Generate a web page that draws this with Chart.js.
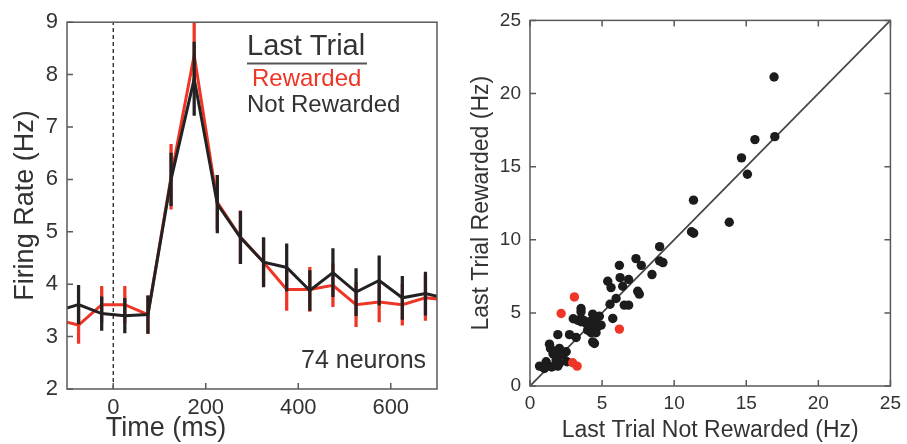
<!DOCTYPE html>
<html>
<head>
<meta charset="utf-8">
<script src="https://cdn.jsdelivr.net/npm/chart.js@4/dist/chart.umd.min.js"></script>
<style>
  body { margin: 0; background: #fff; }
  #wrap { position: relative; width: 907px; height: 444px; }
  canvas { position: absolute; top: 0; }
  #left-chart { left: 0; }
  #right-chart { left: 460px; }
</style>
</head>
<body>
<div id="wrap">
  <canvas id="left-chart" width="460" height="444"></canvas>
  <canvas id="right-chart" width="447" height="444"></canvas>
</div>
<script>
// Left panel: PSTH around reward, 50 ms bins
const times = [-125, -75, -25, 25, 75, 125, 175, 225, 275, 325, 375, 425, 475, 525, 575, 625, 675, 725];
const rewardedMean = [3.33, 3.22, 3.61, 3.61, 3.42, 6.05, 8.37, 5.56, 4.90, 4.42, 3.90, 3.90, 3.98, 3.61, 3.66, 3.61, 3.74, 3.70];
const rewardedErr = [null, 0.35, 0.35, 0.35, 0.36, 0.62, 0.65, 0.52, 0.50, 0.45, 0.40, 0.42, 0.41, 0.42, 0.38, 0.39, 0.43, null];
const notRewardedMean = [3.48, 3.61, 3.44, 3.40, 3.42, 6.00, 7.92, 5.53, 4.89, 4.42, 4.32, 3.88, 4.22, 3.85, 4.07, 3.74, 3.82, 3.72];
const notRewardedErr = [null, 0.37, 0.32, 0.33, 0.36, 0.50, 0.70, 0.55, 0.50, 0.47, 0.45, 0.38, 0.46, 0.45, 0.47, 0.41, 0.41, null];
const leftYTicks = [2, 3, 4, 5, 6, 7, 8, 9];
const leftXTicks = [0, 200, 400, 600];

// Right panel: per-neuron rates (x = not rewarded, y = rewarded)
const neuronsBlack = [
  [16.93, 21.13], [16.98, 17.05], [15.6, 16.85], [14.67, 15.6], [15.08, 14.48],
  [13.82, 11.2], [11.34, 12.71], [11.2, 10.55], [11.35, 10.45], [8.99, 9.53],
  [7.35, 8.71], [7.72, 8.25], [8.99, 8.55], [9.22, 8.44], [6.2, 8.25],
  [8.46, 7.62], [5.39, 7.16], [6.25, 7.41], [6.84, 7.28], [5.62, 6.73],
  [6.43, 6.82], [7.47, 6.48], [7.58, 6.28], [5.97, 5.98], [5.55, 5.59],
  [6.54, 5.53], [6.84, 5.53], [3.54, 5.3], [3.54, 5.07], [4.35, 4.91],
  [4.81, 4.77], [5.74, 4.62], [3.31, 4.5], [3.54, 4.39], [3.89, 4.28],
  [4.12, 4.39], [4.35, 4.16], [4.58, 4.39], [4.7, 4.05], [4.93, 4.16],
  [4.0, 3.82], [4.24, 3.64], [4.58, 3.64], [4.35, 3.02], [4.47, 2.91],
  [1.93, 3.51], [2.74, 3.51], [3.2, 3.32], [1.35, 2.86], [1.42, 2.57],
  [2.04, 2.57], [2.16, 2.34], [2.51, 2.34], [1.93, 2.0], [1.81, 1.77],
  [2.04, 1.55], [1.12, 1.66], [1.23, 1.43], [0.66, 1.36], [0.89, 1.28],
  [2.57, 1.66], [1.93, 1.36], [3.0, 4.6], [4.47, 3.87], [3.7, 4.5],
  [2.3, 2.1], [1.6, 2.2], [1.0, 1.2], [1.5, 1.3]
];
const neuronsRed = [[3.08, 6.09], [2.16, 4.96], [6.2, 3.89], [2.96, 1.59], [3.27, 1.36]];
const identityLine = [0, 25];
const rightTicks = [0, 5, 10, 15, 20, 25];

const RED = '#ee3526';
const BLACK = '#222222';
const AXIS = '#5a5a5a';
const FONT = "'Liberation Sans', Arial, sans-serif";

// MATLAB style box with inward ticks
function boxPlugin(mirror) {
  return {
    id: 'box',
    afterDraw(chart) {
      const { ctx, chartArea: a } = chart;
      const xs = chart.scales.x, ys = chart.scales.y;
      const len = 6;
      ctx.save();
      ctx.strokeStyle = AXIS;
      ctx.lineWidth = 1.5;
      ctx.strokeRect(a.left, a.top, a.right - a.left, a.bottom - a.top);
      ctx.beginPath();
      xs.ticks.forEach(t => {
        const px = xs.getPixelForValue(t.value);
        ctx.moveTo(px, a.bottom); ctx.lineTo(px, a.bottom - len);
        if (mirror) { ctx.moveTo(px, a.top); ctx.lineTo(px, a.top + len); }
      });
      ys.ticks.forEach(t => {
        const py = ys.getPixelForValue(t.value);
        ctx.moveTo(a.left, py); ctx.lineTo(a.left + len, py);
        if (mirror) { ctx.moveTo(a.right, py); ctx.lineTo(a.right - len, py); }
      });
      ctx.stroke();
      ctx.restore();
    }
  };
}

// Legend and notes on the left panel
const leftTextPlugin = {
  id: 'leftText',
  afterDraw(chart) {
    const ctx = chart.ctx;
    ctx.save();
    ctx.textBaseline = 'alphabetic';
    ctx.textAlign = 'left';
    ctx.fillStyle = '#333';
    ctx.font = '29px ' + FONT;
    ctx.fillText('Last Trial', 247, 55);
    ctx.strokeStyle = '#555';
    ctx.lineWidth = 2;
    ctx.beginPath();
    ctx.moveTo(247, 63.5); ctx.lineTo(367, 63.5);
    ctx.stroke();
    ctx.font = '24px ' + FONT;
    ctx.fillStyle = RED;
    ctx.fillText('Rewarded', 252, 86);
    ctx.fillStyle = '#333';
    ctx.fillText('Not Rewarded', 247, 112);
    ctx.font = '25px ' + FONT;
    ctx.fillText('74 neurons', 301, 368);
    ctx.font = '27px ' + FONT;
    ctx.textAlign = 'center';
    ctx.fillText('Time (ms)', 166, 436);
    ctx.restore();
  }
};

function errorBars(mean, err) {
  return times
    .map((t, i) => err[i] == null ? null : { x: t, y: [mean[i] - err[i], mean[i] + err[i]] })
    .filter(Boolean);
}

function series(mean) {
  return times.map((t, i) => ({ x: t, y: mean[i] }));
}

function fixedTicks(list) {
  return scale => { scale.ticks = list.map(v => ({ value: v })); };
}

const leftCtx = document.getElementById('left-chart').getContext('2d');
new Chart(leftCtx, {
  type: 'line',
  data: {
    datasets: [
      {
        label: 'Not Rewarded',
        data: series(notRewardedMean),
        borderColor: BLACK,
        borderWidth: 3,
        pointRadius: 0,
        tension: 0,
        order: 0
      },
      {
        type: 'bar',
        label: 'Not Rewarded SEM',
        data: errorBars(notRewardedMean, notRewardedErr),
        backgroundColor: BLACK,
        barThickness: 2.6,
        grouped: false,
        order: 1
      },
      {
        label: 'Rewarded',
        data: series(rewardedMean),
        borderColor: RED,
        borderWidth: 3,
        pointRadius: 0,
        tension: 0,
        order: 2
      },
      {
        type: 'bar',
        label: 'Rewarded SEM',
        data: errorBars(rewardedMean, rewardedErr),
        backgroundColor: RED,
        barThickness: 2.6,
        grouped: false,
        order: 3
      },
      {
        label: 'onset',
        data: [{ x: 0, y: 2 }, { x: 0, y: 9 }],
        borderColor: '#222',
        borderWidth: 1.3,
        borderDash: [4, 3],
        pointRadius: 0,
        order: 4
      }
    ]
  },
  options: {
    responsive: false,
    animation: false,
    layout: { padding: { top: 20, right: 23, left: 0, bottom: 0 } },
    plugins: { legend: { display: false }, tooltip: { enabled: false } },
    scales: {
      x: {
        type: 'linear',
        min: -100,
        max: 700,
        offset: false,
        afterBuildTicks: fixedTicks(leftXTicks),
        afterFit: s => { s.height = 55; },
        grid: { display: false, drawTicks: false },
        border: { display: false },
        ticks: { color: '#333', padding: 6, font: { family: FONT, size: 22 } }
      },
      y: {
        min: 2,
        max: 9,
        afterBuildTicks: fixedTicks(leftYTicks),
        afterFit: s => { s.width = 67; },
        grid: { display: false, drawTicks: false },
        border: { display: false },
        ticks: { color: '#333', padding: 9, font: { family: FONT, size: 22 } },
        title: {
          display: true,
          text: 'Firing Rate (Hz)',
          color: '#333',
          padding: { top: 9, bottom: 0 },
          font: { family: FONT, size: 27 }
        }
      }
    }
  },
  plugins: [boxPlugin(false), leftTextPlugin]
});

const rightCtx = document.getElementById('right-chart').getContext('2d');
new Chart(rightCtx, {
  type: 'scatter',
  data: {
    datasets: [
      {
        label: 'Rewarded outliers',
        data: neuronsRed.map(p => ({ x: p[0], y: p[1] })),
        backgroundColor: RED,
        borderWidth: 0,
        pointRadius: 4.7,
        order: 0
      },
      {
        label: 'Neurons',
        data: neuronsBlack.map(p => ({ x: p[0], y: p[1] })),
        backgroundColor: '#1c1c1c',
        borderWidth: 0,
        pointRadius: 4.7,
        order: 1
      },
      {
        label: 'unity',
        data: identityLine.map(v => ({ x: v, y: v })),
        showLine: true,
        borderColor: '#444',
        borderWidth: 1.8,
        pointRadius: 0,
        order: 2
      }
    ]
  },
  options: {
    responsive: false,
    animation: false,
    layout: { padding: { top: 19, right: 15, left: 0, bottom: 0 } },
    plugins: { legend: { display: false }, tooltip: { enabled: false } },
    scales: {
      x: {
        type: 'linear',
        min: 0,
        max: 25,
        afterBuildTicks: fixedTicks(rightTicks),
        afterFit: s => { s.height = 58; },
        grid: { display: false, drawTicks: false },
        border: { display: false },
        ticks: { color: '#333', padding: 6, font: { family: FONT, size: 19 } },
        title: {
          display: true,
          text: 'Last Trial Not Rewarded (Hz)',
          color: '#333',
          padding: { top: 4, bottom: 0 },
          font: { family: FONT, size: 23 }
        }
      },
      y: {
        min: 0,
        max: 25,
        afterBuildTicks: fixedTicks(rightTicks),
        afterFit: s => { s.width = 70; },
        grid: { display: false, drawTicks: false },
        border: { display: false },
        ticks: { color: '#333', padding: 9, font: { family: FONT, size: 19 } },
        title: {
          display: true,
          text: 'Last Trial Rewarded (Hz)',
          color: '#333',
          padding: { top: 8, bottom: 0 },
          font: { family: FONT, size: 23 }
        }
      }
    }
  },
  plugins: [boxPlugin(true)]
});
</script>
</body>
</html>
